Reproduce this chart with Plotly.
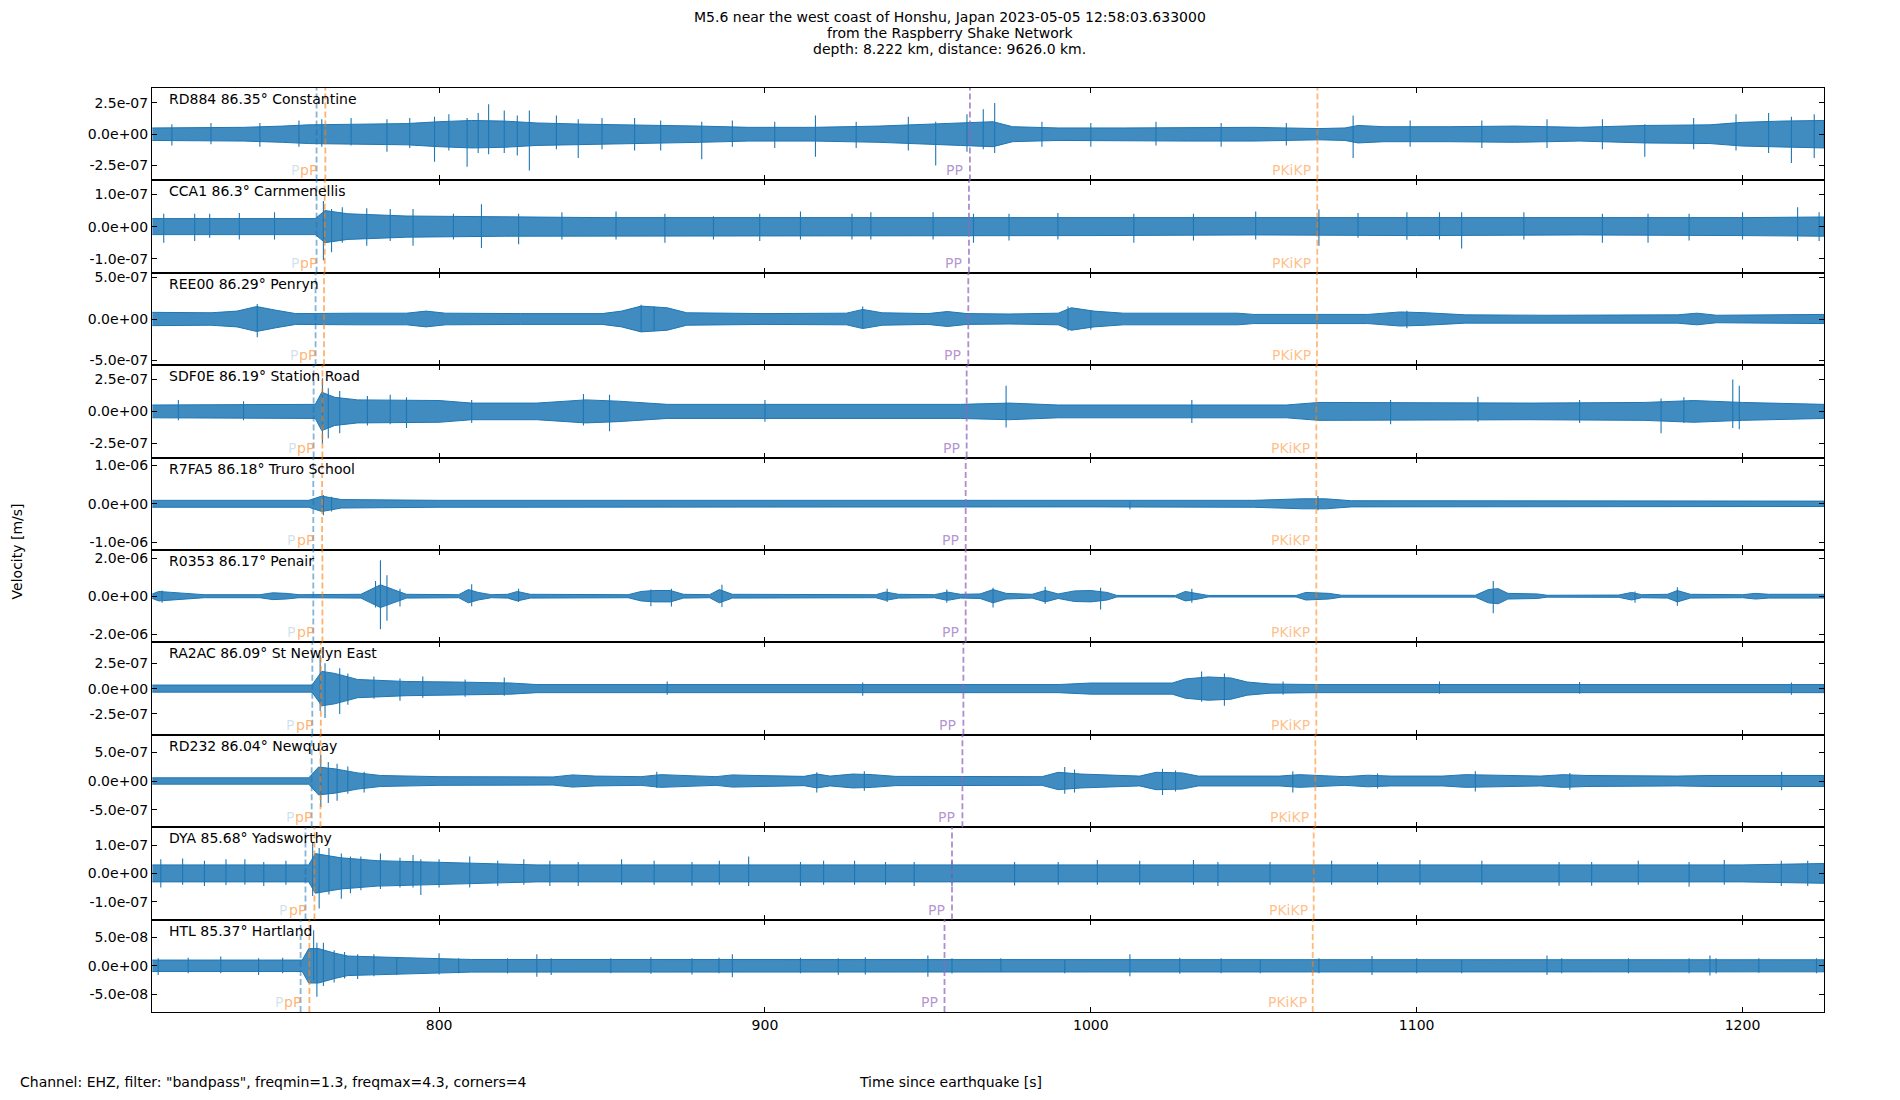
import plotly.graph_objects as go
from plotly.subplots import make_subplots

# shown time window, seconds since the earthquake
x_start, x_end = 711.9, 1225.0

stations = ["RD884 86.35° Constantine", "CCA1 86.3° Carnmenellis", "REE00 86.29° Penryn",
            "SDF0E 86.19° Station Road", "R7FA5 86.18° Truro School", "R0353 86.17° Penair",
            "RA2AC 86.09° St Newlyn East", "RD232 86.04° Newquay", "DYA 85.68° Yadsworthy",
            "HTL 85.37° Hartland"]

# unit (m/s) that each station's envelope / spike numbers are written in
units = [1e-7, 1e-7, 1e-7, 1e-7, 1e-6, 1e-6, 1e-7, 1e-7, 1e-7, 1e-8]
tick_steps = [2.5e-7, 1e-7, 5e-7, 2.5e-7, 1e-6, 2e-6, 2.5e-7, 5e-7, 1e-7, 5e-8]
y_limits = [3.7e-7, 1.44e-7, 5.56e-7, 3.61e-7, 1.2e-6, 2.44e-6, 4.56e-7, 7.98e-7, 1.635e-7, 8.05e-8]

# predicted phase arrivals (s)
p_times = [762.4, 762.4, 762.1, 761.5, 761.4, 761.4, 761.1, 760.9, 759.0, 757.5]
pp_depth_times = [765.1, 764.9, 764.7, 764.2, 764.1, 764.2, 763.7, 763.6, 761.75, 760.2]
PP_times = [962.9, 962.6, 962.4, 961.9, 961.6, 961.6, 960.9, 960.6, 957.4, 955.1]
PKiKP_times = [1069.55, 1069.5, 1069.4, 1069.2, 1069.2, 1069.2, 1069.2, 1068.9, 1068.4, 1068.1]

# waveform envelopes (breakpoint times, half-width) and single large swings (t, top, bottom)
rd884_t = [712, 740, 752, 760, 775, 790, 800, 810, 820, 830, 845, 860, 880, 895, 915, 935, 948, 960,
           970, 976, 990, 1010, 1030, 1050, 1070, 1078, 1082, 1090, 1110, 1130, 1150, 1170, 1190,
           1200, 1212, 1225]
rd884_amp = [0.5, 0.55, 0.65, 0.75, 0.8, 0.85, 1.0, 1.1, 1.05, 0.9, 0.8, 0.75, 0.65, 0.55, 0.55, 0.65,
             0.8, 0.9, 1.0, 0.6, 0.5, 0.5, 0.55, 0.55, 0.45, 0.5, 0.7, 0.6, 0.6, 0.65, 0.55, 0.7, 0.75,
             0.95, 1.05, 1.1]
rd884_spikes = [(718, 0.8, -0.9), (730, 0.9, -0.8), (745, 0.9, -1.0), (757, 1.1, -1.0), (764, 1.2, -1.0),
                (773, 1.3, -0.9), (784, 1.2, -1.4), (791, 1.3, -1.1), (798.6, 1.4, -2.2),
                (803, 1.6, -1.3), (808.6, 1.3, -2.6), (812, 1.7, -1.5), (815.2, 2.4, -1.6),
                (820, 1.9, -1.5), (824, 1.5, -1.7), (827.7, 1.9, -2.9), (836, 1.5, -1.2),
                (842.7, 1.2, -1.9), (850, 1.3, -1.2), (860, 1.3, -1.3), (868, 1.1, -1.3),
                (880.6, 1.0, -2.0), (890, 1.1, -1.0), (903, 1.0, -1.1), (915.5, 1.5, -1.8),
                (928, 1.0, -1.1), (944, 1.4, -1.3), (952.4, 1.0, -2.5), (962, 1.6, -1.4),
                (967, 2.0, -1.2), (970.5, 2.5, -1.5), (985, 1.0, -1.0), (1000, 0.9, -1.0),
                (1020, 1.0, -0.9), (1040, 0.9, -1.0), (1060, 0.9, -0.9), (1080.5, 1.5, -1.9),
                (1098, 1.1, -1.0), (1120, 1.1, -1.1), (1140, 1.2, -1.1), (1157, 1.2, -1.2),
                (1170, 0.8, -1.8), (1185, 1.3, -1.2), (1198, 1.6, -1.3), (1208, 1.7, -1.5),
                (1215, 1.4, -2.3), (1222, 1.6, -1.9)]

cca1_t = [712, 762, 765, 772, 790, 820, 850, 900, 950, 1000, 1050, 1100, 1150, 1200, 1225]
cca1_amp = [0.25, 0.25, 0.5, 0.4, 0.33, 0.3, 0.28, 0.28, 0.28, 0.28, 0.26, 0.28, 0.26, 0.28, 0.3]
cca1_spikes = [(715.5, 0.4, -0.5), (725, 0.4, -0.45), (729.6, 0.4, -0.35), (738.7, 0.42, -0.4),
               (749.5, 0.45, -0.4), (764.5, 0.8, -1.05), (767, 0.55, -0.8), (770.3, 0.6, -0.5),
               (777.8, 0.57, -0.6), (785, 0.55, -0.45), (792, 0.55, -0.6), (804.4, 0.4, -0.4),
               (813, 0.7, -0.67), (824.4, 0.4, -0.55), (837.7, 0.45, -0.4), (854.3, 0.47, -0.4),
               (869.3, 0.4, -0.5), (884.2, 0.32, -0.4), (898.4, 0.4, -0.45), (910.9, 0.47, -0.4),
               (926.7, 0.4, -0.4), (932.5, 0.45, -0.4), (951.6, 0.45, -0.4), (964, 0.4, -0.5),
               (974.9, 0.4, -0.43), (989.9, 0.42, -0.4), (1013.2, 0.4, -0.5), (1031.5, 0.4, -0.43),
               (1050.6, 0.47, -0.4), (1070, 0.53, -0.6), (1082, 0.42, -0.35), (1097, 0.45, -0.41),
               (1107, 0.45, -0.4), (1113.8, 0.45, -0.68), (1132.9, 0.45, -0.4), (1157, 0.4, -0.5),
               (1171, 0.4, -0.5), (1183.6, 0.4, -0.43), (1200, 0.45, -0.4), (1216.9, 0.6, -0.45),
               (1223.5, 0.45, -0.45)]

ree00_t = [712, 730, 738, 744, 750, 756, 775, 790, 796, 802, 825, 850, 856, 862, 870, 876, 900, 925,
           930, 936, 950, 956, 962, 975, 990, 994, 1001, 1010, 1045, 1050, 1085, 1095, 1103, 1115,
           1140, 1180, 1186, 1192, 1225]
ree00_amp = [0.8, 0.75, 0.95, 1.5, 1.05, 0.65, 0.7, 0.7, 0.95, 0.7, 0.65, 0.65, 0.95, 1.55, 1.35, 0.75,
             0.65, 0.7, 1.15, 0.75, 0.65, 0.9, 0.65, 0.6, 0.7, 1.35, 0.95, 0.7, 0.7, 0.55, 0.55, 0.85,
             0.75, 0.5, 0.45, 0.5, 0.7, 0.45, 0.55]
ree00_spikes = [(744.2, 1.8, -2.2), (862, 1.7, -1.5), (866, 1.5, -1.4), (930, 1.5, -1.1),
                (993, 1.5, -1.4), (1000, 1.0, -1.3), (1097, 1.0, -1.1)]

sdf0e_t = [712, 762, 764, 768, 775, 800, 810, 830, 845, 855, 870, 960, 975, 990, 1060, 1070, 1135,
           1170, 1185, 1200, 1225]
sdf0e_amp = [0.5, 0.55, 1.5, 1.1, 0.9, 0.85, 0.65, 0.65, 0.9, 0.8, 0.55, 0.55, 0.65, 0.5, 0.5, 0.7,
             0.65, 0.7, 0.85, 0.7, 0.55]
sdf0e_spikes = [(720, 0.9, -0.7), (740, 0.8, -0.7), (764.2, 2.6, -2.5), (766, 1.8, -2.1),
                (769.5, 1.6, -1.7), (778, 1.2, -1.1), (785, 1.3, -1.0), (790, 1.1, -1.3),
                (810, 0.9, -0.9), (844.3, 1.35, -1.1), (852.3, 1.3, -1.55), (900, 0.9, -0.8),
                (974, 2.0, -1.25), (1031, 0.9, -0.9), (1092, 0.9, -1.0), (1118.8, 1.15, -0.8),
                (1150, 0.9, -0.9), (1175, 1.0, -1.7), (1182, 1.1, -0.9), (1197, 2.5, -1.3),
                (1199, 2.0, -1.4)]

r7fa5_t = [712, 760, 764, 770, 800, 1000, 1050, 1065, 1072, 1080, 1225]
r7fa5_amp = [0.09, 0.09, 0.2, 0.11, 0.09, 0.08, 0.09, 0.13, 0.13, 0.08, 0.07]
r7fa5_spikes = [(764.5, 0.23, -0.3), (767, 0.18, -0.2), (1069.7, 0.2, -0.17), (1012, 0.06, -0.14)]

r0353_t = [712, 714, 718, 724, 728, 745, 749, 753, 757, 776, 779, 782, 786, 790, 806, 809, 812, 816,
           821, 824, 828, 858, 862, 866, 871, 875, 883, 886, 890, 934, 937, 941, 952, 956, 960, 966,
           970, 974, 982, 986, 990, 995, 1000, 1005, 1008, 1026, 1029, 1033, 1036, 1063, 1066, 1073,
           1077, 1118, 1122, 1125, 1128, 1137, 1140, 1162, 1166, 1169, 1177, 1180, 1184, 1200, 1204,
           1208, 1225]
r0353_amp = [0.12, 0.25, 0.2, 0.12, 0.08, 0.08, 0.18, 0.15, 0.08, 0.1, 0.35, 0.6, 0.35, 0.1, 0.08,
             0.35, 0.2, 0.08, 0.1, 0.25, 0.1, 0.08, 0.25, 0.3, 0.3, 0.1, 0.08, 0.35, 0.1, 0.08, 0.22,
             0.1, 0.08, 0.22, 0.1, 0.12, 0.35, 0.15, 0.1, 0.3, 0.12, 0.28, 0.3, 0.2, 0.04, 0.04, 0.25,
             0.15, 0.04, 0.04, 0.2, 0.15, 0.05, 0.05, 0.35, 0.4, 0.15, 0.12, 0.05, 0.06, 0.2, 0.08,
             0.1, 0.3, 0.1, 0.08, 0.15, 0.1, 0.1]
r0353_spikes = [(715, 0.3, -0.35), (780.5, 0.8, -0.6), (782, 1.9, -1.75), (784, 1.1, -1.3),
                (788, 0.4, -0.55), (810, 0.63, -0.53), (824.4, 0.4, -0.3), (865, 0.35, -0.53),
                (871.3, 0.4, -0.55), (886.8, 0.6, -0.57), (937.5, 0.4, -0.3), (955.8, 0.35, -0.35),
                (970, 0.45, -0.6), (986, 0.5, -0.4), (1003, 0.45, -0.7), (1031, 0.4, -0.35),
                (1123.5, 0.8, -0.9), (1167, 0.25, -0.35), (1180, 0.47, -0.5)]

ra2ac_t = [712, 761, 764, 768, 775, 790, 805, 822, 830, 990, 1000, 1025, 1029, 1036, 1043, 1048, 1055,
           1070, 1225]
ra2ac_amp = [0.35, 0.35, 1.7, 1.5, 0.9, 0.7, 0.65, 0.55, 0.4, 0.4, 0.55, 0.55, 0.95, 1.15, 1.05, 0.65,
             0.45, 0.4, 0.4]
ra2ac_spikes = [(763.5, 3.3, -2.2), (765, 2.5, -2.9), (769.5, 2.0, -2.5), (772, 1.5, -1.6),
                (780, 1.2, -1.0), (788, 1.0, -1.2), (795, 1.2, -0.9), (808, 0.9, -0.8),
                (820, 1.1, -0.7), (870, 0.7, -0.6), (930, 0.6, -0.7), (1034, 1.7, -1.3),
                (1041, 1.5, -1.7), (1059, 0.7, -0.6), (1107, 0.7, -0.5), (1150, 0.65, -0.5),
                (1215, 0.6, -0.6)]

rd232_t = [712, 760, 763, 768, 775, 782, 800, 835, 841, 848, 862, 868, 885, 890, 897, 912, 916, 920,
           927, 933, 940, 985, 990, 997, 1015, 1020, 1028, 1033, 1058, 1064, 1078, 1085, 1092, 1108,
           1115, 1124, 1138, 1145, 1152, 1180, 1190, 1225]
rd232_amp = [0.55, 0.55, 2.4, 2.1, 1.4, 0.95, 0.75, 0.7, 1.05, 0.85, 0.75, 1.1, 0.75, 1.05, 0.95, 0.8,
             1.2, 0.85, 1.2, 1.1, 0.8, 0.75, 1.5, 1.2, 0.85, 1.5, 1.4, 0.85, 0.85, 1.1, 0.75, 1.0,
             0.85, 0.85, 1.1, 1.0, 0.85, 1.1, 0.95, 0.85, 0.95, 0.95]
rd232_spikes = [(763.7, 4.5, -4.5), (766, 3.3, -3.8), (768.7, 3.0, -3.4), (772, 2.5, -2.2),
                (777, 1.6, -2.0), (866.8, 1.6, -1.2), (915.9, 1.5, -2.0), (930.5, 1.7, -1.7),
                (992, 2.4, -2.2), (995, 2.0, -2.0), (1022, 2.1, -2.4), (1026, 1.8, -1.8),
                (1062, 1.7, -2.0), (1088, 1.3, -1.3), (1118, 1.7, -1.8), (1147, 1.4, -1.5),
                (1212, 1.6, -1.6)]

dya_t = [712, 760, 762, 770, 781, 811, 830, 1200, 1225]
dya_amp = [0.3, 0.3, 0.7, 0.55, 0.45, 0.35, 0.3, 0.3, 0.35]
dya_spikes = [(714.6, 0.5, -0.5), (721.3, 0.53, -0.4), (728, 0.45, -0.45), (734.6, 0.5, -0.41),
              (740.4, 0.5, -0.4), (746.2, 0.4, -0.45), (753, 0.45, -0.4), (761.2, 1.1, -0.8),
              (763.2, 0.9, -1.24), (766.2, 0.9, -0.75), (770, 0.7, -0.9), (772.8, 0.6, -0.7),
              (776, 0.6, -0.6), (782, 0.7, -0.55), (788, 0.55, -0.5), (792, 0.65, -0.5),
              (794.4, 0.5, -0.76), (800, 0.5, -0.5), (809.4, 0.6, -0.5), (818, 0.45, -0.45),
              (826, 0.5, -0.4), (834, 0.45, -0.45), (842.7, 0.4, -0.45), (856, 0.5, -0.4),
              (866, 0.45, -0.4), (877.6, 0.4, -0.44), (886, 0.45, -0.4), (895, 0.6, -0.45),
              (910.9, 0.4, -0.45), (918, 0.45, -0.4), (927.5, 0.45, -0.4), (937, 0.4, -0.4),
              (945.8, 0.4, -0.45), (957.4, 0.45, -0.45), (976.6, 0.4, -0.43), (990, 0.4, -0.4),
              (1002, 0.47, -0.4), (1015, 0.45, -0.4), (1031.5, 0.47, -0.4), (1039, 0.4, -0.45),
              (1055, 0.4, -0.4), (1073.9, 0.45, -0.4), (1088, 0.4, -0.4), (1101, 0.47, -0.4),
              (1120, 0.45, -0.4), (1143.7, 0.4, -0.44), (1153.7, 0.4, -0.44), (1168, 0.45, -0.4),
              (1183.6, 0.4, -0.47), (1194.4, 0.47, -0.4), (1211.9, 0.45, -0.45), (1220, 0.45, -0.45)]

htl_t = [712, 758, 760, 763, 768, 772, 790, 810, 1225]
htl_amp = [1.0, 1.0, 3.0, 3.0, 2.2, 1.7, 1.4, 1.1, 1.05]
htl_spikes = [(713.8, 1.3, -1.6), (723, 1.4, -1.3), (733, 1.6, -1.3), (744.6, 1.3, -1.6),
              (752, 1.4, -1.3), (761.5, 6.2, -2.5), (762.5, 4.0, -5.4), (764.5, 4.0, -3.5),
              (767.8, 2.7, -2.9), (771, 2.4, -2.2), (775, 2.0, -2.3), (780, 2.0, -1.8),
              (787, 1.4, -1.6), (800, 2.2, -1.5), (806, 1.3, -1.3), (821, 1.3, -1.35),
              (830, 2.0, -1.9), (834.4, 1.3, -1.6), (852.7, 1.3, -1.3), (865, 1.5, -1.4),
              (877.6, 1.3, -1.5), (885.9, 1.4, -1.3), (890, 2.0, -2.0), (910.9, 1.4, -1.3),
              (922.5, 1.3, -1.6), (930.8, 1.5, -1.5), (950, 1.8, -1.9), (957.4, 1.3, -1.35),
              (972.4, 1.3, -1.1), (992, 1.0, -1.3), (1012, 2.0, -1.8), (1027.3, 1.4, -1.4),
              (1040, 1.3, -1.3), (1052, 1.0, -1.3), (1070, 1.3, -1.3), (1086.3, 1.7, -1.6),
              (1100, 1.3, -1.3), (1113.8, 1.0, -1.3), (1140, 1.8, -1.6), (1144.5, 1.3, -1.3),
              (1165, 1.3, -1.3), (1183.6, 1.3, -1.3), (1190, 1.8, -1.7), (1191.9, 1.3, -1.35),
              (1205, 1.3, -1.2), (1222.7, 1.3, -1.3)]

waveforms = [(rd884_t, rd884_amp, rd884_spikes), (cca1_t, cca1_amp, cca1_spikes),
             (ree00_t, ree00_amp, ree00_spikes), (sdf0e_t, sdf0e_amp, sdf0e_spikes),
             (r7fa5_t, r7fa5_amp, r7fa5_spikes), (r0353_t, r0353_amp, r0353_spikes),
             (ra2ac_t, ra2ac_amp, ra2ac_spikes), (rd232_t, rd232_amp, rd232_spikes),
             (dya_t, dya_amp, dya_spikes), (htl_t, htl_amp, htl_spikes)]

blue = "#1f77b4"
band = "rgba(31,119,180,0.85)"
font = "DejaVu Sans"

# phase name, arrival list, line colour, text colour, label offset (px)
phases = [("P", p_times, "rgba(31,119,180,0.55)", "rgba(31,119,180,0.22)", -16),
          ("pP", pp_depth_times, "rgba(255,127,14,0.6)", "rgba(255,127,14,0.6)", -6),
          ("PP", PP_times, "rgba(148,103,189,0.75)", "rgba(148,103,189,0.7)", -5),
          ("PKiKP", PKiKP_times, "rgba(255,127,14,0.55)", "rgba(255,127,14,0.5)", -4)]

n = len(stations)
fig = make_subplots(rows=n, cols=1, shared_xaxes=True, vertical_spacing=0)

for i, (tt, aa, spk) in enumerate(waveforms):
    u = units[i]
    row = i + 1
    # envelope band of the trace
    xs = list(tt) + list(tt[::-1])
    ys = [a * u for a in aa] + [-a * u for a in aa[::-1]]
    fig.add_trace(go.Scatter(x=xs, y=ys, mode="lines", fill="toself", fillcolor=band,
                             line=dict(color=blue, width=1), hoverinfo="skip"), row=row, col=1)
    # single big swings
    sx, sy = [], []
    for t, top, bot in spk:
        sx += [t, t, None]
        sy += [top * u, bot * u, None]
    fig.add_trace(go.Scatter(x=sx, y=sy, mode="lines", line=dict(color=blue, width=1.1),
                             hoverinfo="skip"), row=row, col=1)

    xr = "x" if row == 1 else f"x{row}"
    yr = "y" if row == 1 else f"y{row}"

    for name, times, lcol, tcol, shift in phases:
        fig.add_shape(type="line", x0=times[i], x1=times[i], y0=0, y1=1, xref=xr,
                      yref=f"{yr} domain", line=dict(color=lcol, width=1.8, dash="6px,3px"))
        fig.add_annotation(x=times[i], y=0, xref=xr, yref=f"{yr} domain", text=name,
                           showarrow=False, xanchor="right", yanchor="bottom", xshift=shift,
                           yshift=0, font=dict(family=font, size=14, color=tcol))

    fig.add_annotation(x=0, y=1, xref=f"{xr} domain", yref=f"{yr} domain", text=stations[i],
                       showarrow=False, xanchor="left", yanchor="top", xshift=15, yshift=-1,
                       font=dict(family=font, size=14, color="black"))

    step = tick_steps[i]
    fig.update_yaxes(range=[-y_limits[i], y_limits[i]], tickvals=[-step, 0, step],
                     ticktext=[f"{v:.1e}" for v in (-step, 0.0, step)], row=row, col=1)

fig.update_xaxes(range=[x_start, x_end], tickvals=[800, 900, 1000, 1100, 1200],
                 ticks="inside", ticklen=5, tickcolor="black", mirror="ticks", showline=True,
                 linecolor="black", linewidth=1, showgrid=False, zeroline=False,
                 tickfont=dict(family=font, size=14, color="black"))
fig.update_yaxes(ticks="inside", ticklen=5, tickcolor="black", mirror="ticks", showline=True,
                 linecolor="black", linewidth=1, showgrid=False, zeroline=False,
                 tickfont=dict(family=font, size=14, color="black"))

title_lines = ["M5.6 near the west coast of Honshu, Japan 2023-05-05 12:58:03.633000",
               "from the Raspberry Shake Network",
               "depth: 8.222 km, distance: 9626.0 km."]
for line, yy in zip(title_lines, [1.0769, 1.0595, 1.0422]):
    fig.add_annotation(x=0.4771, y=yy, xref="paper", yref="paper", text=line, showarrow=False,
                       xanchor="center", yanchor="middle", font=dict(family=font, size=14, color="black"))

fig.add_annotation(x=-0.081, y=0.498, xref="paper", yref="paper", text="Velocity [m/s]",
                   textangle=-90, showarrow=False, xanchor="center", yanchor="middle",
                   font=dict(family=font, size=14, color="black"))
fig.add_annotation(x=-0.0804, y=-0.0755, xref="paper", yref="paper",
                   text='Channel: EHZ, filter: "bandpass", freqmin=1.3, freqmax=4.3, corners=4',
                   showarrow=False, xanchor="left", yanchor="middle",
                   font=dict(family=font, size=14, color="black"))
fig.add_annotation(x=0.4778, y=-0.0755, xref="paper", yref="paper", text="Time since earthquake [s]",
                   showarrow=False, xanchor="center", yanchor="middle",
                   font=dict(family=font, size=14, color="black"))

# the page adds an 8 px body margin, so the margins are set to land the plot where the reference has it
fig.update_layout(width=1900, height=1100, autosize=False, showlegend=False,
                  margin=dict(l=144, r=84, t=80, b=96),
                  plot_bgcolor="white", paper_bgcolor="white",
                  font=dict(family=font, size=14, color="black"))

fig.write_html("out.html")
